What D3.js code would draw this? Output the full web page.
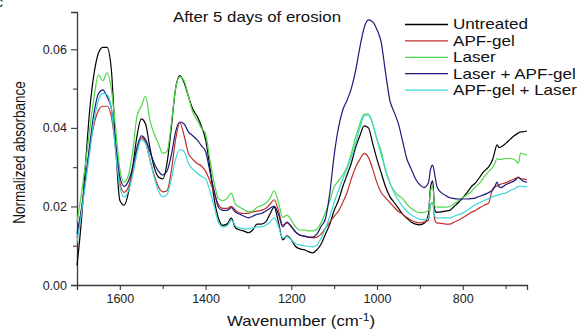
<!DOCTYPE html>
<html>
<head>
<meta charset="utf-8">
<script src="https://cdn.jsdelivr.net/npm/d3@7"></script>
<style>
  body { margin: 0; background: #fff; }
  svg { font-family: "Liberation Sans", Arial, sans-serif; }
</style>
</head>
<body>
<figure id="ftir" style="margin:0"></figure>
<script>
const wavenumber = [1700,1690,1680,1670,1660,1650,1640,1630,1620,1610,1600,1590,1580,1570,1560,1550,1540,1530,1520,1510,1500,1490,1480,1470,1460,1450,1440,1430,1420,1410,1400,1390,1380,1370,1360,1350,1340,1330,1320,1310,1300,1290,1280,1270,1260,1250,1240,1230,1220,1210,1200,1190,1180,1170,1160,1150,1140,1130,1120,1110,1100,1090,1080,1070,1060,1050,1040,1030,1020,1010,1000,990,980,970,960,950,940,930,920,910,900,890,880,875,870,865,860,850,840,830,820,810,800,790,780,770,760,750,740,730,725,720,715,710,700,690,680,670,665,660,650];

const untreated = [0.005,0.016,0.031,0.045,0.054,0.059,0.0605,0.0605,0.055,0.036,0.0215,0.0203,0.0235,0.030,0.038,0.0423,0.041,0.035,0.030,0.0275,0.027,0.031,0.040,0.050,0.0533,0.0515,0.048,0.0448,0.043,0.0405,0.037,0.030,0.022,0.017,0.0152,0.0155,0.017,0.0145,0.014,0.0137,0.0133,0.014,0.0155,0.0155,0.016,0.018,0.0198,0.016,0.0115,0.0125,0.0115,0.0098,0.0092,0.009,0.0085,0.0082,0.009,0.0105,0.013,0.0155,0.019,0.0215,0.025,0.028,0.031,0.035,0.038,0.0405,0.040,0.036,0.032,0.0285,0.025,0.0225,0.021,0.0195,0.018,0.017,0.016,0.0155,0.0153,0.0157,0.018,0.025,0.0265,0.019,0.0185,0.0186,0.0188,0.019,0.020,0.021,0.0222,0.0235,0.025,0.026,0.0275,0.029,0.030,0.032,0.034,0.0357,0.035,0.0352,0.036,0.037,0.038,0.0387,0.039,0.039,0.0392];

const apfGel = [0.012,0.019,0.027,0.035,0.041,0.0444,0.0455,0.0455,0.043,0.035,0.026,0.0236,0.025,0.029,0.034,0.0375,0.0365,0.032,0.028,0.025,0.0237,0.024,0.029,0.037,0.0413,0.038,0.0335,0.032,0.031,0.0303,0.029,0.0265,0.0235,0.0205,0.0195,0.0195,0.020,0.019,0.0183,0.0182,0.0183,0.0186,0.0188,0.019,0.0195,0.0205,0.0217,0.019,0.0153,0.0158,0.015,0.0135,0.0127,0.0124,0.0122,0.012,0.0122,0.013,0.0145,0.016,0.0175,0.0188,0.021,0.0235,0.027,0.030,0.032,0.0335,0.0325,0.0295,0.026,0.0235,0.0222,0.021,0.0198,0.0187,0.018,0.0172,0.0165,0.016,0.0158,0.016,0.0165,0.0205,0.021,0.0165,0.0158,0.0157,0.0155,0.0155,0.016,0.0165,0.0171,0.0178,0.0185,0.019,0.0197,0.0203,0.0208,0.0245,0.025,0.0252,0.0255,0.0257,0.026,0.0265,0.027,0.0275,0.027,0.027,0.0268];

const laser = [0.016,0.023,0.031,0.040,0.048,0.0535,0.052,0.054,0.050,0.040,0.0295,0.0262,0.028,0.034,0.043,0.0455,0.048,0.042,0.0385,0.036,0.0335,0.034,0.041,0.050,0.053,0.052,0.048,0.044,0.042,0.040,0.0385,0.032,0.026,0.022,0.0215,0.022,0.0234,0.0205,0.0198,0.0192,0.0186,0.0188,0.0198,0.0202,0.0208,0.022,0.024,0.021,0.0172,0.0178,0.0165,0.0148,0.014,0.014,0.0138,0.0138,0.0142,0.016,0.0185,0.0215,0.025,0.0265,0.028,0.030,0.0335,0.0375,0.041,0.0435,0.0435,0.041,0.037,0.034,0.029,0.026,0.024,0.0228,0.022,0.0205,0.0195,0.0188,0.0184,0.0185,0.019,0.024,0.025,0.020,0.0199,0.0198,0.0198,0.020,0.0207,0.0215,0.0222,0.023,0.0238,0.025,0.026,0.0275,0.0288,0.030,0.031,0.0322,0.032,0.032,0.0322,0.0322,0.032,0.031,0.0336,0.0334,0.0331];

const laserApf = [0.013,0.019,0.027,0.036,0.044,0.0487,0.0497,0.048,0.045,0.036,0.0275,0.0251,0.0265,0.030,0.035,0.038,0.037,0.034,0.031,0.029,0.028,0.029,0.033,0.039,0.0415,0.041,0.039,0.038,0.037,0.0355,0.034,0.029,0.024,0.0198,0.019,0.019,0.0197,0.0185,0.018,0.0175,0.0171,0.0175,0.018,0.0182,0.0188,0.0195,0.0201,0.018,0.0148,0.016,0.0148,0.0135,0.0127,0.0125,0.0122,0.0122,0.013,0.015,0.017,0.0235,0.033,0.040,0.0445,0.047,0.050,0.0545,0.0605,0.0655,0.0675,0.067,0.065,0.0617,0.054,0.047,0.044,0.041,0.0365,0.032,0.0295,0.027,0.0255,0.0248,0.026,0.0295,0.0305,0.028,0.025,0.0235,0.0228,0.0222,0.022,0.0219,0.0219,0.0219,0.022,0.0222,0.0226,0.023,0.0235,0.0242,0.025,0.0262,0.025,0.0248,0.0255,0.026,0.0265,0.0273,0.027,0.0265,0.0262];

const apfLaser = [0.011,0.018,0.026,0.034,0.042,0.047,0.0488,0.0485,0.045,0.034,0.025,0.0224,0.024,0.028,0.0335,0.037,0.036,0.032,0.0275,0.024,0.0224,0.023,0.027,0.032,0.0345,0.034,0.031,0.0295,0.0285,0.0277,0.027,0.024,0.020,0.016,0.0148,0.015,0.0166,0.015,0.0145,0.0143,0.0143,0.0145,0.0148,0.0148,0.0152,0.016,0.0171,0.015,0.012,0.0123,0.0115,0.0105,0.0102,0.010,0.0098,0.0097,0.0102,0.012,0.0145,0.0175,0.021,0.024,0.027,0.0295,0.0325,0.036,0.040,0.043,0.0433,0.041,0.037,0.033,0.0295,0.026,0.0235,0.0215,0.020,0.0187,0.0178,0.0172,0.0167,0.0166,0.017,0.0205,0.021,0.0175,0.017,0.0171,0.0171,0.0171,0.0175,0.0179,0.0183,0.019,0.0197,0.0205,0.021,0.0215,0.022,0.0225,0.0227,0.0228,0.023,0.0232,0.0234,0.024,0.0245,0.0251,0.0252,0.0251,0.025];

const seriesNames = ["Untreated", "APF-gel", "Laser", "Laser + APF-gel", "APF-gel + Laser"];
const seriesColors = ["#000000", "#c0302a", "#4ed84a", "#1c1a7c", "#3ad8d8"];
const seriesValues = [untreated, apfGel, laser, laserApf, apfLaser];

const xMajorTicks = [1600, 1400, 1200, 1000, 800];
const xMinorTicks = [1500, 1300, 1100, 900, 700];
const yMajorTicks = [0, 0.02, 0.04, 0.06];
const yMinorTicks = [0.01, 0.03, 0.05];

const width = 581;
const height = 330;
const margin = { top: 12, right: 54, bottom: 45, left: 77 };
// the source picture is a bit wider than tall, so text gets stretched sideways
const stretch = 1.2;

const svg = d3.select("figure#ftir")
  .append("svg")
  .attr("width", width)
  .attr("height", height);

// scales
const x = d3.scaleLinear()
  .domain([1700, 650])
  .range([margin.left, width - margin.right]);

const y = d3.scaleLinear()
  .domain([0, 0.0695])
  .range([height - margin.bottom, margin.top]);

const axisColor = "#3a3a3a";

// x axis
const gx = svg.append("g")
  .attr("transform", `translate(0,${height - margin.bottom})`)
  .call(d3.axisBottom(x).tickValues(xMajorTicks).tickSize(5).tickPadding(4).tickFormat(d3.format("d")));
gx.append("g")
  .call(d3.axisBottom(x).tickValues(xMinorTicks).tickSize(4).tickFormat(""))
  .call(g => g.select(".domain").remove());

// y axis
const gy = svg.append("g")
  .attr("transform", `translate(${margin.left},0)`)
  .call(d3.axisLeft(y).tickValues(yMajorTicks).tickSize(6).tickPadding(4).tickFormat(d3.format(".2f")));
gy.append("g")
  .call(d3.axisLeft(y).tickValues(yMinorTicks).tickSize(4).tickFormat(""))
  .call(g => g.select(".domain").remove());

svg.selectAll(".domain").attr("stroke", axisColor).attr("stroke-width", 1.3);
svg.selectAll(".tick line").attr("stroke", axisColor).attr("stroke-width", 1.1);
svg.selectAll(".tick text").attr("fill", "#222").style("font-size", "12.5px");

// lines
const line = (vals) => d3.line()
  .x((d, i) => x(wavenumber[i]))
  .y(d => y(d))
  .curve(d3.curveMonotoneX)(vals);

svg.append("g")
  .attr("fill", "none")
  .attr("stroke-width", 1.2)
  .selectAll("path")
  .data(seriesValues.map((v, i) => ({ v, c: seriesColors[i] })))
  .join("path")
  .attr("stroke", d => d.c)
  .attr("d", d => line(d.v));

// title
svg.append("text")
  .attr("transform", `translate(173,22) scale(${stretch},1)`)
  .attr("fill", "#111")
  .style("font-size", "14px")
  .text("After 5 days of erosion");

// legend
const legend = svg.append("g")
  .selectAll("g")
  .data(seriesNames)
  .join("g")
  .attr("transform", (d, i) => `translate(405,${24.5 + i * 16.4})`);
legend.append("line")
  .attr("x1", 0).attr("x2", 43)
  .attr("stroke", (d, i) => seriesColors[i])
  .attr("stroke-width", 1.3);
legend.append("text")
  .attr("transform", `translate(48,0) scale(${stretch + 0.02},1)`)
  .attr("dy", "0.35em")
  .attr("fill", "#111")
  .style("font-size", "14px")
  .text(d => d);

// axis labels
svg.append("text")
  .attr("transform", `translate(25,${(margin.top + height - margin.bottom) / 2 + 4}) scale(${stretch},1) rotate(-90)`)
  .attr("text-anchor", "middle")
  .attr("fill", "#111")
  .style("font-size", "13.5px")
  .text("Normalized absorbance");

const xl = svg.append("text")
  .attr("transform", `translate(301,326) scale(${stretch},1)`)
  .attr("text-anchor", "middle")
  .attr("fill", "#111")
  .style("font-size", "14px");
xl.append("tspan").text("Wavenumber (cm");
xl.append("tspan").attr("dy", -5).style("font-size", "10px").text("-1");
xl.append("tspan").attr("dy", 5).text(")");

// panel letter, cut at the corner as in the source
svg.append("text")
  .attr("x", -4)
  .attr("y", 7)
  .attr("fill", "#111")
  .style("font-size", "14px")
  .text("c");
</script>
</body>
</html>
